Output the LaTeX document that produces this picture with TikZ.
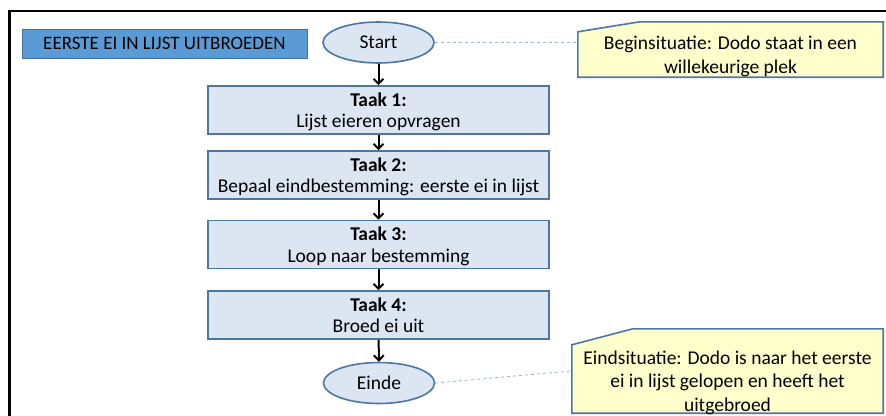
\documentclass[tikz,border=0pt]{standalone}
\usepackage{fontspec}
\setmainfont{Carlito}
\usetikzlibrary{positioning,calc,backgrounds,arrows.meta,shapes.geometric}
\definecolor{taakfill}{HTML}{DCE6F2}
\definecolor{taakrand}{HTML}{4A77A3}
\definecolor{titelfill}{HTML}{5B9BD5}
\definecolor{titelrand}{HTML}{41719C}
\definecolor{notefill}{HTML}{FFFFCC}
\definecolor{stippel}{HTML}{8FB8E0}

\begin{document}
\begin{tikzpicture}[x=1pt, y=-1pt,
		taak/.style={draw=taakrand, fill=taakfill, line width=1.6pt, minimum width=341pt, inner sep=0pt, text height=41.5pt, text depth=6.5pt, align=center, font=\fontsize{19.5}{21.5}\selectfont},
		grens/.style={ellipse, draw=taakrand, fill=taakfill, line width=1.6pt, minimum width=111pt, minimum height=41pt, inner sep=0pt, font=\fontsize{19.5}{21}\selectfont},
		titel/.style={draw=titelrand, fill=titelfill, line width=1pt, minimum width=285pt, minimum height=29pt, inner sep=0pt, font=\fontsize{19}{21}\selectfont},
		notitie/.style={inner sep=0pt, align=center, font=\fontsize{19.5}{23.5}\selectfont},
		notitierand/.style={draw=taakrand, fill=notefill, line width=1.6pt},
		pijl/.style={-{Straight Barb[length=5pt,width=10pt]}, line width=2pt},
		stippellijn/.style={draw=stippel, dashed, line width=0.8pt}]
		\useasboundingbox (0,0) rectangle (886,415);
		% kader
		\draw[line width=2.5pt] (9.5,420) -- (9.5,11) -- (890,11);

		\node[titel] (titel) at (164.5,43.5) {EERSTE EI IN LIJST UITBROEDEN};

		\node[grens] (start) at (378.5,42.5) {Start};
		\node[taak] (taak1) at (378.5,110) {\textbf{Taak 1:}\\Lijst eieren opvragen};
		\node[taak] (taak2) at (378.5,175) {\textbf{Taak 2:}\\Bepaal eindbestemming: eerste ei in lijst};
		\node[taak] (taak3) at (378.5,244.5) {\textbf{Taak 3:}\\Loop naar bestemming};
		\node[taak] (taak4) at (378.5,315) {\textbf{Taak 4:}\\Broed ei uit};
		\node[grens] (einde) at (379,383) {Einde};

		\draw[pijl] (start) -- (taak1);
		\draw[pijl] (taak1) -- (taak2);
		\draw[pijl] (taak2) -- (taak3);
		\draw[pijl] (taak3) -- (taak4);
		\draw[pijl] (taak4) -- (einde);

		% situaties
		\node[notitie, minimum width=305pt, text height=51pt, text depth=4pt] (begin) at (730.5,49.5) {Beginsituatie: Dodo staat in een\\willekeurige plek};
		\node[notitie, minimum width=311pt, text height=82pt, text depth=2pt] (eind) at (727.5,371) {Eindsituatie: Dodo is naar het eerste\\ei in lijst gelopen en heeft het\\uitgebroed};
		\begin{scope}[on background layer]
			\filldraw[notitierand] (begin.south west) -- ($(begin.north west)+(0,10)$) -- ($(begin.north west)+(62,0)$) -- (begin.north east) -- (begin.south east) -- cycle;
			\filldraw[notitierand] (eind.south west) -- ($(eind.north west)+(0,16)$) -- ($(eind.north west)+(61,0)$) -- (eind.north east) -- (eind.south east) -- cycle;
		\end{scope}
		\draw[stippellijn] (start.east) -- (start.east -| begin.west);
		\draw[stippellijn] (einde.east) -- (eind.west);
	\end{tikzpicture}
\end{document}
